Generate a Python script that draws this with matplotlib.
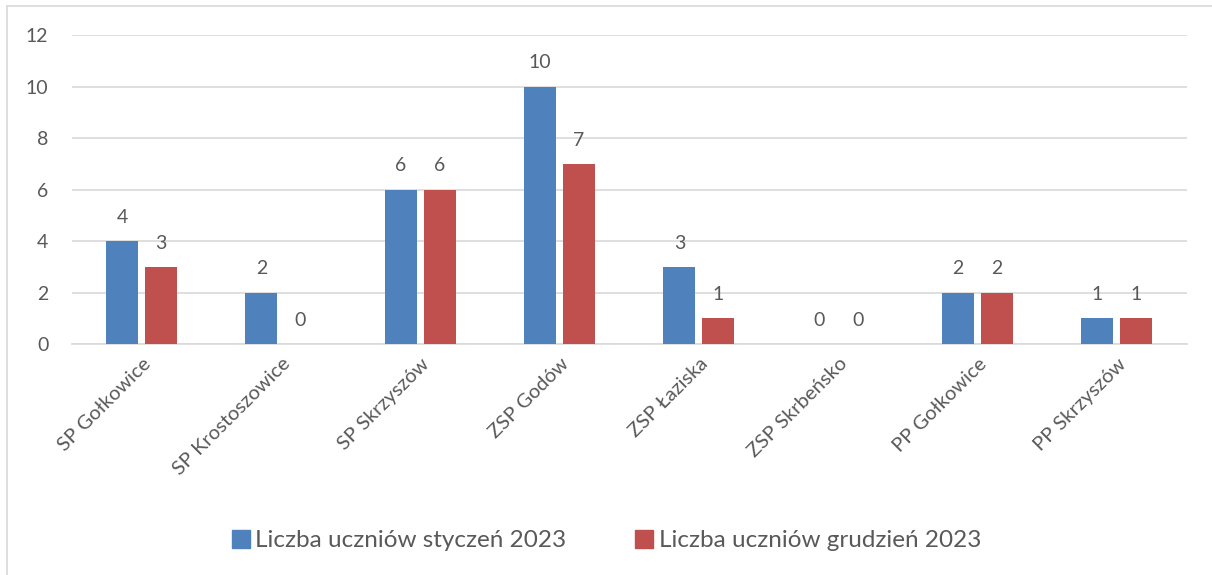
import numpy as np
import matplotlib.pyplot as plt
from matplotlib.lines import Line2D

szkoly = ["SP Gołkowice", "SP Krostoszowice", "SP Skrzyszów", "ZSP Godów",
          "ZSP Łaziska", "ZSP Skrbeńsko", "PP Gołkowice", "PP Skrzyszów"]
styczen = [4, 2, 6, 10, 3, 0, 2, 1]
grudzien = [3, 0, 6, 7, 1, 0, 2, 1]
seria_nazwy = ["Liczba uczniów styczeń 2023", "Liczba uczniów grudzień 2023"]

plt.rcParams['font.family'] = ['Lato', 'DejaVu Sans']
kolor_tekstu = "#595959"

fig = plt.figure(figsize=(12.12, 5.75), dpi=100)
ax = fig.add_axes([0.0594, 0.4017, 0.9196, 0.5373])

x = np.arange(len(szkoly))
szer = 0.23
b1 = ax.bar(x - 0.14, styczen, szer, color="#4F81BD", label=seria_nazwy[0], zorder=3)
b2 = ax.bar(x + 0.14, grudzien, szer, color="#C0504D", label=seria_nazwy[1], zorder=3)

for bars in (b1, b2):
    ax.bar_label(bars, padding=11, fontsize=14, color=kolor_tekstu)

ax.set_xlim(-0.5, len(szkoly) - 0.5)
ax.set_ylim(0, 12)
ax.set_yticks(range(0, 13, 2))
ax.grid(axis='y', color="#D9D9D9", linewidth=1.2, zorder=0)
for s in ["top", "right", "left"]:
    ax.spines[s].set_visible(False)
ax.spines["bottom"].set_color("#D9D9D9")
ax.spines["bottom"].set_linewidth(1.2)
ax.tick_params(axis='both', length=0, labelsize=14, colors=kolor_tekstu)
ax.tick_params(axis='y', pad=17)
ax.set_xticks(x)
ax.set_xticklabels(szkoly, rotation=45, ha='right', rotation_mode='anchor', fontsize=14.5)
ax.tick_params(axis='x', pad=8)

uchwyty = [Line2D([], [], marker='s', linestyle='', markersize=13, color="#4F81BD"),
           Line2D([], [], marker='s', linestyle='', markersize=13, color="#C0504D")]
fig.legend(uchwyty, seria_nazwy, loc='center', bbox_to_anchor=(0.5, 0.06), ncol=2,
           frameon=False, fontsize=17.5, labelcolor=kolor_tekstu, handletextpad=0.2,
           columnspacing=2.8, handlelength=0.8)

# ramka wykresu (widoczna tylko góra i lewa strona)
fig.add_artist(Line2D([7 / 1212, 1], [1 - 6 / 575, 1 - 6 / 575], color="#D9D9D9", linewidth=1.2))
fig.add_artist(Line2D([7 / 1212, 7 / 1212], [0, 1 - 6 / 575], color="#D9D9D9", linewidth=1.2))

fig.savefig("out.png", dpi=100)
